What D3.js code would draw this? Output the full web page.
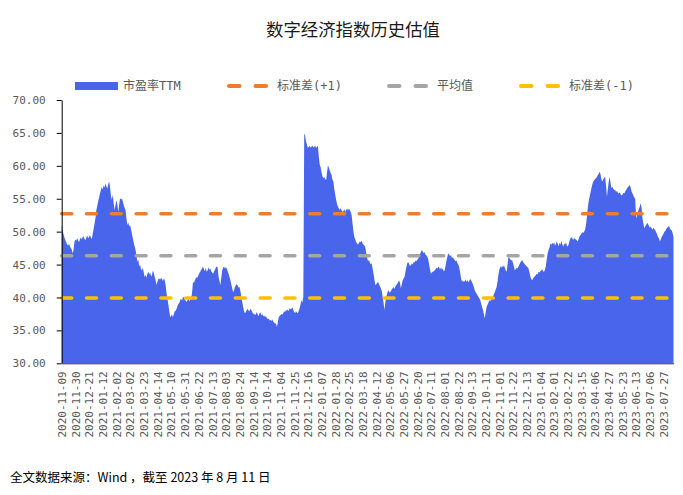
<!DOCTYPE html>
<html>
<head>
<meta charset="utf-8">
<script src="https://cdn.jsdelivr.net/npm/d3@7"></script>
<style>
  body { margin: 0; background: #fff; }
</style>
</head>
<body>
<div id="chart-area"></div>
<script>
// x labels, one every 15 trading days
let tickLabels = [
  "2020-11-09", "2020-11-30", "2020-12-21", "2021-01-12", "2021-02-02", "2021-03-02",
  "2021-03-23", "2021-04-14", "2021-05-10", "2021-05-31", "2021-06-22", "2021-07-13",
  "2021-08-03", "2021-08-24", "2021-09-14", "2021-10-14", "2021-11-04", "2021-11-25",
  "2021-12-16", "2022-01-07", "2022-01-28", "2022-02-25", "2022-03-18", "2022-04-12",
  "2022-05-06", "2022-05-27", "2022-06-20", "2022-07-11", "2022-08-01", "2022-08-22",
  "2022-09-13", "2022-10-11", "2022-11-01", "2022-11-22", "2022-12-13", "2023-01-04",
  "2023-02-01", "2023-02-22", "2023-03-15", "2023-04-06", "2023-04-27", "2023-05-23",
  "2023-06-13", "2023-07-06", "2023-07-27"
]
let labelStep = 15

// daily PE (TTM), one row per label interval
let peTTM = [
  51.0, 50.2, 49.6, 49.1, 48.7, 48.4, 48.0, 47.9, 48.2, 47.8, 47.5, 47.3, 46.7, 47.2, 48.5,
  48.8, 48.6, 49.0, 48.7, 48.4, 48.9, 49.1, 48.8, 49.2, 49.3, 48.9, 48.7, 49.1, 49.4, 49.0,
  49.2, 49.5, 49.1, 48.9, 49.7, 50.4, 51.2, 52.0, 53.3, 53.9, 54.6, 55.2, 55.8, 56.3, 56.8,
  56.4, 57.0, 56.7, 57.3, 56.9, 56.5, 57.2, 57.6, 56.8, 55.4, 54.8, 55.6, 54.3, 53.3, 54.0,
  54.8, 54.2, 53.0, 54.1, 55.1, 54.9, 55.0, 54.6, 54.0, 53.6, 53.3, 52.0, 51.0, 51.4, 50.8,
  51.0, 50.4, 49.7, 49.0, 48.3, 47.8, 47.2, 46.4, 45.4, 45.8, 44.7, 45.0, 44.3, 44.1, 44.5,
  43.8, 43.1, 43.4, 43.0, 43.6, 43.9, 43.5, 43.8, 43.2, 43.4, 44.1, 43.7, 43.1, 42.6, 41.9,
  42.4, 42.8, 42.9, 42.7, 43.0, 42.8, 42.5, 42.9, 42.6, 41.9, 40.6, 39.8, 38.9, 37.9, 37.0,
  37.2, 37.4, 37.0, 37.5, 37.9, 38.0, 38.3, 38.7, 39.0, 39.2, 39.6, 39.8, 39.5, 40.1, 40.0,
  39.7, 39.5, 39.3, 39.6, 39.9, 39.4, 39.8, 39.7, 40.8, 42.4, 42.2, 42.6, 42.9, 43.1, 43.0,
  43.4, 43.7, 43.9, 44.2, 44.4, 44.7, 44.3, 44.0, 44.5, 43.9, 44.1, 44.6, 44.2, 44.4, 44.0,
  43.8, 43.6, 43.9, 44.2, 44.5, 44.7, 44.6, 43.2, 42.5, 41.9, 43.0, 44.1, 44.5, 44.7, 44.4,
  44.6, 44.4, 44.0, 43.6, 43.1, 42.6, 42.0, 41.4, 40.8, 41.1, 41.6, 41.9, 42.0, 41.8, 41.5,
  41.6, 41.0, 40.1, 39.3, 38.6, 37.9, 37.6, 37.8, 38.1, 38.3, 38.0, 37.9, 38.3, 38.1, 37.8,
  37.5, 37.6, 37.3, 37.5, 37.8, 37.4, 37.2, 37.6, 37.7, 37.3, 37.5, 37.1, 37.3, 37.0, 37.2,
  36.9, 36.7, 36.8, 36.5, 36.6, 36.4, 36.7, 36.3, 36.2, 36.0, 36.1, 35.5, 36.2, 37.0, 37.2,
  37.3, 37.5, 37.4, 37.6, 37.9, 37.8, 38.1, 38.0, 38.2, 37.9, 38.4, 38.2, 38.3, 38.5, 38.1,
  37.8, 37.6, 37.9, 37.7, 37.6, 38.0, 38.4, 39.0, 39.6, 39.2, 40.1, 64.9, 64.6, 63.7, 63.2,
  62.7, 62.9, 63.0, 62.8, 62.9, 63.1, 62.8, 62.9, 63.0, 62.7, 62.9, 63.0, 61.4, 60.2, 59.8,
  59.0, 58.4, 58.1, 58.3, 58.0, 57.8, 59.0, 60.1, 59.7, 59.3, 58.9, 58.6, 57.9, 57.6, 56.4,
  55.6, 54.8, 54.2, 53.8, 53.5, 53.3, 53.6, 53.2, 53.0, 53.1, 53.4, 53.0, 53.3, 53.5, 53.2,
  53.5, 53.3, 53.0, 52.5, 51.2, 50.0, 49.2, 48.8, 48.4, 48.2, 48.0, 48.3, 48.5, 48.4, 48.6,
  48.2, 48.0, 47.9, 47.6, 46.8, 46.0, 45.5, 45.7, 45.3, 45.0, 45.2, 44.4, 43.6, 42.7, 41.9,
  42.0, 42.2, 42.4, 42.0, 41.7, 41.4, 41.0, 40.1, 39.2, 38.1, 39.3, 40.1, 40.6, 41.1, 40.9,
  40.7, 41.0, 41.2, 41.4, 41.6, 41.3, 41.7, 41.9, 42.1, 42.3, 42.6, 42.2, 41.4, 42.0, 42.6,
  42.9, 43.1, 43.9, 44.6, 45.2, 45.4, 45.1, 44.8, 44.9, 45.2, 45.0, 45.4, 45.3, 45.6, 45.5,
  45.7, 45.9, 46.3, 46.6, 46.9, 47.2, 47.0, 46.7, 46.9, 46.5, 46.4, 46.2, 45.8, 45.0, 44.2,
  43.6, 43.8, 43.9, 44.0, 44.1, 44.3, 44.5, 44.4, 44.7, 44.5, 44.3, 44.6, 44.2, 44.4, 44.0,
  44.1, 44.8, 45.6, 46.2, 46.7, 46.5, 46.3, 46.4, 46.0, 46.1, 45.9, 45.7, 45.5, 45.6, 45.2,
  45.0, 44.6, 43.8, 42.9, 42.4, 42.6, 42.3, 42.5, 42.7, 42.4, 42.6, 42.3, 42.5, 42.8, 42.6,
  42.3, 42.0, 41.6, 41.1, 40.8, 40.6, 40.3, 40.1, 39.9, 39.6, 39.1, 38.6, 38.1, 37.5, 36.8,
  37.7, 38.6, 38.9, 39.2, 39.6, 39.4, 39.8, 40.0, 40.1, 40.5, 40.8, 41.2, 41.6, 42.4, 43.5,
  44.2, 44.7, 44.5, 44.8, 44.6, 44.9, 44.5, 44.1, 43.9, 45.0, 46.2, 46.0, 45.8, 45.6, 45.7,
  45.2, 44.7, 44.1, 44.3, 44.5, 44.4, 44.7, 45.0, 45.3, 45.5, 45.7, 45.4, 45.2, 45.0, 44.9,
  44.7, 44.6, 44.4, 43.8, 43.2, 42.8, 42.6, 42.9, 43.1, 43.2, 43.4, 43.6, 43.5, 43.9, 43.8,
  44.0, 44.1, 44.3, 44.0, 43.9, 44.2, 44.8, 45.8, 46.7, 47.2, 47.6, 48.2, 48.0, 48.3, 48.1,
  48.4, 47.9, 48.1, 48.5, 48.2, 47.8, 48.3, 48.0, 48.6, 48.1, 47.7, 48.2, 48.0, 48.4, 47.9,
  47.7, 48.1, 48.6, 49.0, 49.2, 49.0, 48.7, 49.1, 48.8, 48.9, 48.6, 48.5, 48.9, 49.3, 49.5,
  49.7, 49.9, 49.8, 50.0, 50.3, 51.0, 52.2, 53.6, 54.6, 55.3, 56.0, 56.6, 57.2, 57.6, 57.8,
  58.0, 58.1, 58.3, 58.6, 58.8, 59.1, 58.7, 57.9, 57.6, 58.0, 58.2, 58.3, 57.0, 55.3, 56.5,
  57.6, 58.3, 57.4, 56.6, 56.8, 56.5, 56.3, 56.4, 56.0, 56.2, 55.9, 55.8, 56.0, 55.7, 55.5,
  55.6, 55.9, 55.8, 56.1, 56.3, 56.6, 56.8, 56.9, 57.1, 56.7, 56.1, 55.8, 55.5, 55.2, 55.0,
  52.0, 52.5, 53.0, 53.4, 53.8, 54.3, 53.6, 52.0, 51.2, 50.5, 50.8, 51.0, 51.3, 51.2, 50.9,
  50.6, 50.8, 50.5, 50.3, 50.6, 50.4, 50.2, 49.9, 49.6, 49.2, 49.0, 48.5, 48.8, 49.2, 49.4,
  49.7, 50.0, 50.1, 50.4, 50.6, 50.7, 50.9, 50.5, 50.3, 50.2, 49.8, 49.2
]

// reference lines
let refNames = ["标准差(+1)", "平均值", "标准差(-1)"]
let refValues = [52.71, 46.32, 39.93]
let refColors = ["#ED7D31", "#A5A5A5", "#FFC000"]

let yTicks = [30, 35, 40, 45, 50, 55, 60, 65, 70]

let areaColor = "#4865EC"
let monoFont = "'DejaVu Sans Mono', 'Noto Sans CJK SC', monospace"
let cjkFont = "'Noto Sans CJK SC', sans-serif"

let width = 683, height = 495
let plot = {left: 61.7, right: 673.5, top: 100, bottom: 363.3}

let svg = d3.select("#chart-area").append("svg")
  .attr("width", width)
  .attr("height", height)

let x = d3.scaleLinear()
  .domain([0, peTTM.length - 1])
  .range([plot.left, plot.right])

let y = d3.scaleLinear()
  .domain([30, 70])
  .range([plot.bottom, plot.top])

// title
svg.append("text")
  .attr("x", 353)
  .attr("y", 36)
  .attr("text-anchor", "middle")
  .attr("font-family", cjkFont)
  .attr("font-size", "17.4px")
  .attr("fill", "#1a1a1a")
  .text("数字经济指数历史估值")

// area
let area = d3.area()
  .x((d, i) => x(i))
  .y0(y(30))
  .y1(d => y(d))

svg.append("path")
  .datum(peTTM)
  .attr("d", area)
  .attr("fill", areaColor)

// dashed reference lines
svg.selectAll(".ref-line")
  .data(refValues)
  .enter()
  .append("line")
    .attr("class", "ref-line")
    .attr("x1", x(0))
    .attr("x2", x(peTTM.length - 1))
    .attr("y1", d => y(d))
    .attr("y2", d => y(d))
    .attr("stroke", (d, i) => refColors[i])
    .attr("stroke-width", 3.5)
    .attr("stroke-linecap", "round")
    .attr("stroke-dasharray", "10 14.8")

// y axis
let yAxisCall = d3.axisLeft(y)
  .tickValues(yTicks)
  .tickFormat(d3.format(".2f"))
  .tickSize(5)
  .tickSizeOuter(0)
  .tickPadding(11)

let yAxis = svg.append("g")
  .attr("class", "y-axis")
  .attr("transform", "translate(" + plot.left + ", 0)")
  .call(yAxisCall)
yAxis.select(".domain").attr("stroke", "#000")
yAxis.selectAll(".tick line").attr("stroke", "#000")
yAxis.selectAll("text")
  .attr("font-family", monoFont)
  .attr("font-size", "11px")
  .attr("fill", "#595959")

// x axis
let xAxisCall = d3.axisBottom(x)
  .tickValues(tickLabels.map((label, k) => k * labelStep))
  .tickFormat((d, k) => tickLabels[k])
  .tickSize(0)
  .tickSizeOuter(0)

let xAxis = svg.append("g")
  .attr("class", "x-axis")
  .attr("transform", "translate(0, " + plot.bottom + ")")
  .call(xAxisCall)
xAxis.select(".domain").attr("stroke", "#333")
xAxis.selectAll("text")
  .attr("font-family", monoFont)
  .attr("font-size", "11px")
  .attr("fill", "#595959")
  .attr("text-anchor", "end")
  .attr("transform", "rotate(-90)")
  .attr("x", -8)
  .attr("y", 0)
  .attr("dy", "0.35em")

// legend
let legendY = 86
let legend = svg.append("g").attr("class", "legend")

legend.append("rect")
  .attr("x", 75)
  .attr("y", legendY - 4)
  .attr("width", 43)
  .attr("height", 8)
  .attr("fill", areaColor)

legend.append("text")
  .attr("x", 123)
  .attr("y", legendY)
  .attr("dy", "0.35em")
  .attr("font-family", monoFont)
  .attr("font-size", "12px")
  .attr("fill", "#595959")
  .text("市盈率TTM")

let legendX = [227, 387, 519]
refNames.forEach((name, i) => {
  legend.append("line")
    .attr("x1", legendX[i] + 2)
    .attr("x2", legendX[i] + 39)
    .attr("y1", legendY)
    .attr("y2", legendY)
    .attr("stroke", refColors[i])
    .attr("stroke-width", 4)
    .attr("stroke-linecap", "round")
    .attr("stroke-dasharray", "10.5 16")
  legend.append("text")
    .attr("x", legendX[i] + 50)
    .attr("y", legendY)
    .attr("dy", "0.35em")
    .attr("font-family", monoFont)
    .attr("font-size", "12px")
    .attr("fill", "#595959")
    .text(name)
})

// footer
svg.append("text")
  .attr("x", 10)
  .attr("y", 482)
  .attr("font-family", cjkFont)
  .attr("font-size", "12.5px")
  .attr("fill", "#000")
  .text("全文数据来源：Wind ，截至 2023 年 8 月 11 日")
</script>
</body>
</html>
